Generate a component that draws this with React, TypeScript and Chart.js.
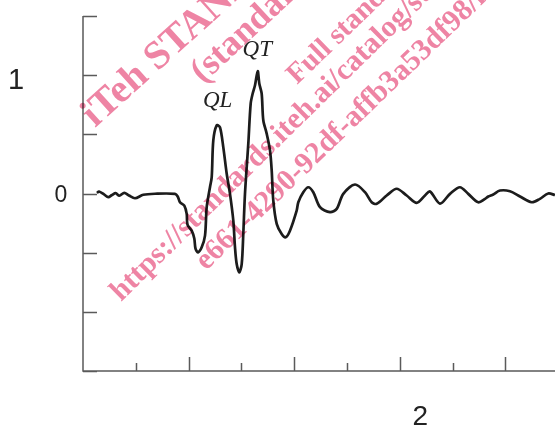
import React, { useEffect, useRef } from "react";
import { Chart, registerables } from "chart.js";

Chart.register(...registerables);

// Waveform samples: time (x-axis units, minor tick = 1) and amplitude
const timeValues = [
  0.265, 0.303, 0.398, 0.479, 0.549, 0.619, 0.688, 0.782, 0.871, 0.985,
  1.142, 1.364, 1.742, 1.794, 1.837, 1.919, 1.964, 1.979, 2.059, 2.108,
  2.131, 2.178, 2.248, 2.311, 2.343, 2.405, 2.438, 2.468, 2.532, 2.595,
  2.657, 2.722, 2.784, 2.847, 2.879, 2.911, 2.96, 3.006, 3.036, 3.068,
  3.131, 3.176, 3.214, 3.258, 3.309, 3.339, 3.384, 3.415, 3.479, 3.542,
  3.574, 3.604, 3.669, 3.763, 3.839, 3.92, 4.047, 4.078, 4.172, 4.267,
  4.362, 4.489, 4.678, 4.805, 4.93, 5.152, 5.341, 5.468, 5.563, 5.752,
  5.941, 6.131, 6.32, 6.477, 6.572, 6.761, 6.951, 7.14, 7.297, 7.487,
  7.614, 7.676, 7.771, 7.898, 8.087, 8.277, 8.498, 8.655, 8.813, 8.939,
];
const amplitudeValues = [
  0.004, 0.017, -0.008, -0.031, -0.013, 0.003, -0.019, 0.006, -0.017, -0.04,
  -0.011, -0.002, -0.003, -0.025, -0.074, -0.102, -0.172, -0.263, -0.314, -0.381,
  -0.466, -0.497, -0.455, -0.356, -0.116, 0.053, 0.138, 0.449, 0.576, 0.559,
  0.392, 0.167, -0.003, -0.229, -0.455, -0.596, -0.667, -0.596, -0.342, -0.003,
  0.421, 0.76, 0.845, 0.915, 1.034, 0.93, 0.845, 0.619, 0.506, 0.364,
  0.195, -0.059, -0.257, -0.342, -0.37, -0.314, -0.144, -0.074, 0.011, 0.053,
  0.011, -0.116, -0.158, -0.13, -0.003, 0.076, 0.011, -0.074, -0.087, -0.017,
  0.04, -0.017, -0.079, -0.017, 0.017, -0.085, -0.003, 0.053, -0.003, -0.074,
  -0.045, -0.025, -0.008, 0.025, 0.019, -0.025, -0.074, -0.045, 0.0, -0.013,
];

const yTickValues = [1.5, 1, 0.5, 0, -0.5, -1, -1.5];
const xTickValues = [1, 2, 3, 4, 5, 6, 7, 8];
const xMin = 0;
const xMax = 8.94;
const yMin = -1.5;
const yMax = 1.5;

const peakLabels = ["QL", "QT"];
const peakLabelTimes = [2.55, 3.3];
const peakLabelLevels = [0.73, 1.16];

const watermarkLines = [
  "iTeh STANDARD PREVIEW",
  "(standards.iteh.ai)",
  "Full standard:",
  "https://standards.iteh.ai/catalog/standards/sist/",
  "e661-4290-92df-affb3a53df98/iso",
];

const axesPlugin = {
  id: "customAxes",
  beforeDatasetsDraw(chart: any) {
    const { ctx, chartArea, scales } = chart;
    const { left, right, top, bottom } = chartArea;
    const x = scales.x;
    const y = scales.y;
    ctx.save();
    ctx.strokeStyle = "#5a5a5a";
    ctx.lineWidth = 1.5;
    ctx.beginPath();
    ctx.moveTo(left, top);
    ctx.lineTo(left, bottom);
    ctx.lineTo(right, bottom);
    yTickValues.forEach((v) => {
      const py = Math.round(y.getPixelForValue(v)) + 0.5;
      ctx.moveTo(left, py);
      ctx.lineTo(left + 14, py);
    });
    xTickValues.forEach((v) => {
      const px = Math.round(x.getPixelForValue(v)) + 0.5;
      const len = v % 2 === 0 ? 14 : 8;
      ctx.moveTo(px, bottom);
      ctx.lineTo(px, bottom - len);
    });
    ctx.stroke();
    ctx.restore();
  },
  afterDatasetsDraw(chart: any) {
    const { ctx, chartArea, scales } = chart;
    const x = scales.x;
    const y = scales.y;
    ctx.save();
    ctx.fillStyle = "#222";
    ctx.textAlign = "center";
    ctx.textBaseline = "alphabetic";
    ctx.font = "29px 'Liberation Sans', Arial, sans-serif";
    ctx.fillText("1", 16, y.getPixelForValue(1) + 14);
    ctx.font = "23px 'Liberation Sans', Arial, sans-serif";
    ctx.fillText("0", chartArea.left - 22, y.getPixelForValue(0) + 8.5);
    ctx.font = "28px 'Liberation Sans', Arial, sans-serif";
    ctx.fillText("2", x.getPixelForValue(6.39), chartArea.bottom + 54);

    ctx.font = "italic 23px 'Liberation Serif', 'Times New Roman', serif";
    peakLabels.forEach((t, i) => {
      ctx.fillText(t, x.getPixelForValue(peakLabelTimes[i]), y.getPixelForValue(peakLabelLevels[i]));
    });

    // watermark
    ctx.globalCompositeOperation = "multiply";
    ctx.fillStyle = "rgb(238,132,164)";
    ctx.textAlign = "left";
    const wm = [
      { t: watermarkLines[0], x: 95, y: 128, s: 40, a: -42 },
      { t: watermarkLines[1], x: 203, y: 84, s: 36, a: -43 },
      { t: watermarkLines[2], x: 297, y: 85, s: 29, a: -44 },
      { t: watermarkLines[3], x: 121, y: 302, s: 30, a: -44.5 },
      { t: watermarkLines[4], x: 206, y: 271, s: 30, a: -44 },
    ];
    wm.forEach((w) => {
      ctx.save();
      ctx.translate(w.x, w.y);
      ctx.rotate((w.a * Math.PI) / 180);
      ctx.font = `bold ${w.s}px 'Liberation Serif', 'Times New Roman', serif`;
      ctx.fillText(w.t, 0, 0);
      ctx.restore();
    });
    ctx.restore();
  },
};

export default function App() {
  const canvasRef = useRef<HTMLCanvasElement | null>(null);

  useEffect(() => {
    if (!canvasRef.current) return;
    const chart = new Chart(canvasRef.current, {
      type: "line",
      data: {
        datasets: [
          {
            data: timeValues.map((t, i) => ({ x: t, y: amplitudeValues[i] })),
            borderColor: "#1c1c1c",
            borderWidth: 2.7,
            pointRadius: 0,
            tension: 0.3,
            fill: false,
          },
        ],
      },
      options: {
        responsive: false,
        animation: false,
        events: [],
        layout: { padding: { left: 83, right: 0, top: 16, bottom: 58 } },
        plugins: { legend: { display: false }, tooltip: { enabled: false } },
        scales: {
          x: { type: "linear", min: xMin, max: xMax, display: false },
          y: { type: "linear", min: yMin, max: yMax, display: false },
        },
      },
      plugins: [axesPlugin],
    });
    return () => chart.destroy();
  }, []);

  return (
    <div style={{ position: "fixed", left: 0, top: 0, width: 555, height: 429, background: "#fff" }}>
      <canvas ref={canvasRef} width={555} height={429} style={{ display: "block" }} />
    </div>
  );
}
